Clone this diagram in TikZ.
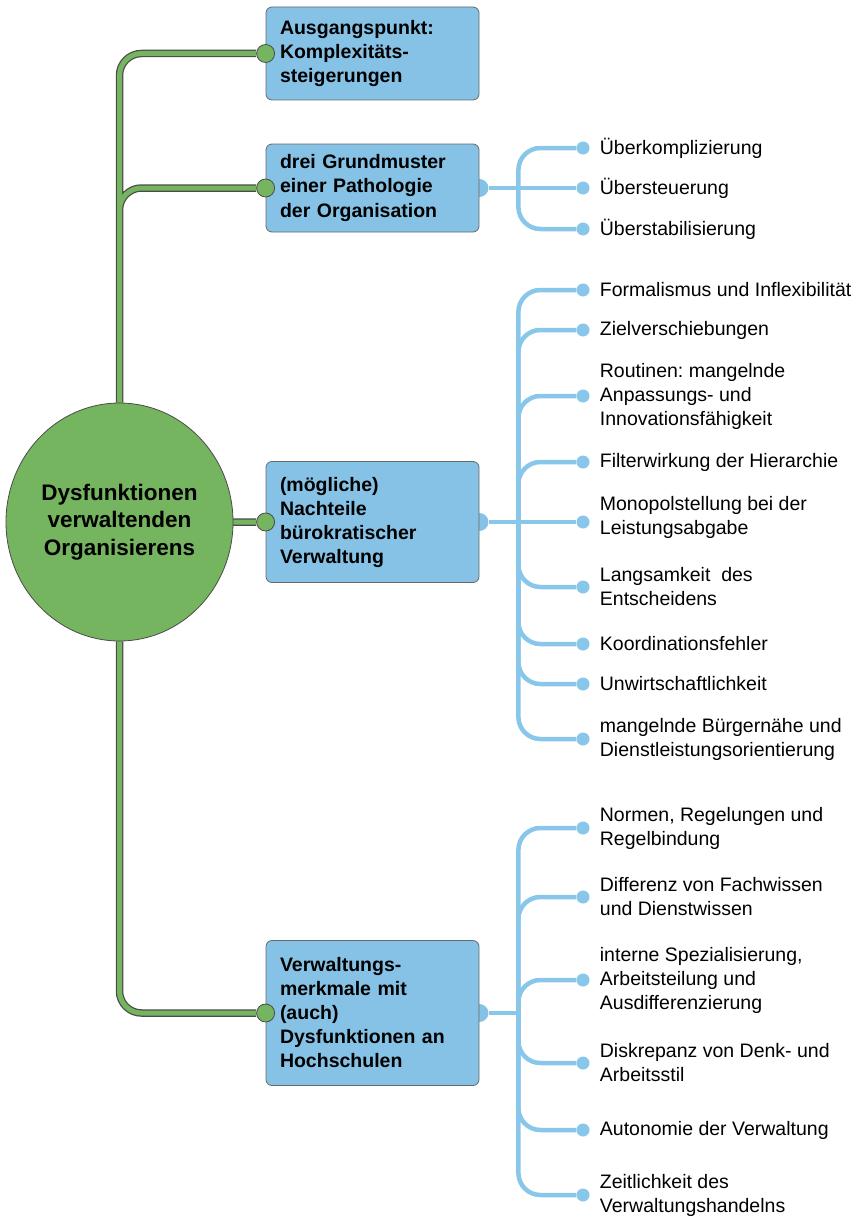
\documentclass[tikz,border=0pt]{standalone}
\usepackage{fontspec}
\setmainfont{Liberation Sans}
\frenchspacing
\usetikzlibrary{positioning,shapes.geometric,backgrounds}

\definecolor{boxblue}{RGB}{133,194,230}
\definecolor{twigblue}{RGB}{136,198,234}
\definecolor{stemgreen}{RGB}{117,181,95}
\definecolor{stemdark}{RGB}{75,75,75}
\definecolor{boxrim}{RGB}{105,105,105}

\tikzset{
	root/.style={ellipse, fill=stemgreen, draw=stemdark, line width=0.8pt, inner sep=0pt,
		minimum width=227pt, minimum height=238pt, align=center,
		font=\fontsize{22.5}{27.5}\selectfont\bfseries},
	topic/.style={rectangle, rounded corners=6pt, fill=boxblue, draw=boxrim, line width=0.8pt,
		text width=185pt, inner xsep=14pt, inner ysep=0pt, align=left,
		font=\fontsize{19.5}{24}\selectfont\bfseries},
	knob/.style={circle, fill=stemgreen, draw=stemdark, line width=0.8pt, minimum size=18pt, inner sep=0pt},
	bluknob/.style={circle, fill=boxblue, minimum size=18pt, inner sep=0pt},
	leafdot/.style={circle, fill=twigblue, minimum size=13pt, inner sep=0pt},
	leaf/.style={inner sep=0pt, align=left, font=\fontsize{19.5}{24}\selectfont},
	stemedge/.style={draw=stemdark, line width=7.5pt, rounded corners=22pt},
	stemfill/.style={draw=stemgreen, line width=5pt, rounded corners=22pt},
	twig/.style={draw=twigblue, line width=4.5pt, rounded corners=22pt}
}

\begin{document}
\begin{tikzpicture}[x=1pt,y=-1pt]
	\useasboundingbox (0,0) rectangle (866,1220);

	% centre and main topics
	\node[root] (root) at (119.5,522) {Dysfunktionen\\verwaltenden\\Organisierens};
	\node[topic, minimum height=93pt] (b1) at (372.5,53.5) {Ausgangspunkt:\\Komplexitäts-\\steigerungen};
	\node[topic, minimum height=88pt] (b2) at (372.5,188) {drei Grundmuster\\einer Pathologie\\der Organisation};
	\node[topic, minimum height=121pt] (b3) at (372.5,522) {(mögliche)\\Nachteile\\bürokratischer\\Verwaltung};
	\node[topic, minimum height=145pt] (b4) at (372.5,1013) {Verwaltungs-\\merkmale mit\\(auch)\\Dysfunktionen an\\Hochschulen};

	\node[knob] (g1) at (b1.west) {};
	\node[knob] (g2) at (b2.west) {};
	\node[knob] (g3) at (b3.west) {};
	\node[knob] (g4) at (b4.west) {};

	\coordinate (j2) at ([xshift=39pt]b2.east);
	\coordinate (j3) at ([xshift=39pt]b3.east);
	\coordinate (j4) at ([xshift=39pt]b4.east);

	% leaves of b2
	\node[leafdot] (d21) at (583,148) {};
	\node[leafdot] (d22) at (583,188) {};
	\node[leafdot] (d23) at (583,229) {};
	\node[leaf, right=10pt of d21] (t21) {Überkomplizierung};
	\node[leaf, right=10pt of d22] (t22) {Übersteuerung};
	\node[leaf, right=10pt of d23] (t23) {Überstabilisierung};

	% leaves of b3
	\node[leafdot] (d31) at (583,290) {};
	\node[leafdot] (d32) at (583,330) {};
	\node[leafdot] (d33) at (583,396) {};
	\node[leafdot] (d34) at (583,462) {};
	\node[leafdot] (d35) at (583,522) {};
	\node[leafdot] (d36) at (583,587) {};
	\node[leafdot] (d37) at (583,644) {};
	\node[leafdot] (d38) at (583,684) {};
	\node[leafdot] (d39) at (583,739) {};
	\node[leaf, right=10pt of d31] (t31) {Formalismus und Inflexibilität};
	\node[leaf, right=10pt of d32] (t32) {Zielverschiebungen};
	\node[leaf, right=10pt of d33] (t33) {Routinen: mangelnde\\Anpassungs- und\\Innovationsfähigkeit};
	\node[leaf, right=10pt of d34] (t34) {Filterwirkung der Hierarchie};
	\node[leaf, right=10pt of d35, yshift=5pt] (t35) {Monopolstellung bei der\\Leistungsabgabe};
	\node[leaf, right=10pt of d36] (t36) {Langsamkeit\ \ des\\Entscheidens};
	\node[leaf, right=10pt of d37] (t37) {Koordinationsfehler};
	\node[leaf, right=10pt of d38] (t38) {Unwirtschaftlichkeit};
	\node[leaf, right=10pt of d39] (t39) {mangelnde Bürgernähe und\\Dienstleistungsorientierung};

	% leaves of b4
	\node[leafdot] (d41) at (583,828) {};
	\node[leafdot] (d42) at (583,897) {};
	\node[leafdot] (d43) at (583,980) {};
	\node[leafdot] (d44) at (583,1063) {};
	\node[leafdot] (d45) at (583,1130) {};
	\node[leafdot] (d46) at (583,1195) {};
	\node[leaf, right=10pt of d41] (t41) {Normen, Regelungen und\\Regelbindung};
	\node[leaf, right=10pt of d42] (t42) {Differenz von Fachwissen\\und Dienstwissen};
	\node[leaf, right=10pt of d43] (t43) {interne Spezialisierung,\\Arbeitsteilung und\\Ausdifferenzierung};
	\node[leaf, right=10pt of d44] (t44) {Diskrepanz von Denk- und\\Arbeitsstil};
	\node[leaf, right=10pt of d45] (t45) {Autonomie der Verwaltung};
	\node[leaf, right=10pt of d46] (t46) {Zeitlichkeit des\\Verwaltungshandelns};

	\begin{scope}[on background layer]
		% green stems, rim first
		\draw[stemedge] (g1) -| (root.north) (g2) -| (root.north) (g3) -- (root.center) (g4) -| (root.south);
		\draw[stemfill] (g1) -| (root.north) (g2) -| (root.north) (g3) -- (root.center) (g4) -| (root.south);

		% blue twigs
		\node[bluknob] (k2) at (b2.east) {};
		\node[bluknob] (k3) at (b3.east) {};
		\node[bluknob] (k4) at (b4.east) {};
		\draw[twig] (k2) -- (j2) -- (d22);
		\draw[twig] (k3) -- (j3) -- (d35);
		\draw[twig] (k4) -- (j4);
		\foreach \d in {d21,d23}
			\draw[twig] (j2) |- (\d);
		\foreach \d in {d31,d32,d33,d34,d36,d37,d38,d39}
			\draw[twig] (j3) |- (\d);
		\foreach \d in {d41,d42,d43,d44,d45,d46}
			\draw[twig] (j4) |- (\d);
	\end{scope}
\end{tikzpicture}
\end{document}
